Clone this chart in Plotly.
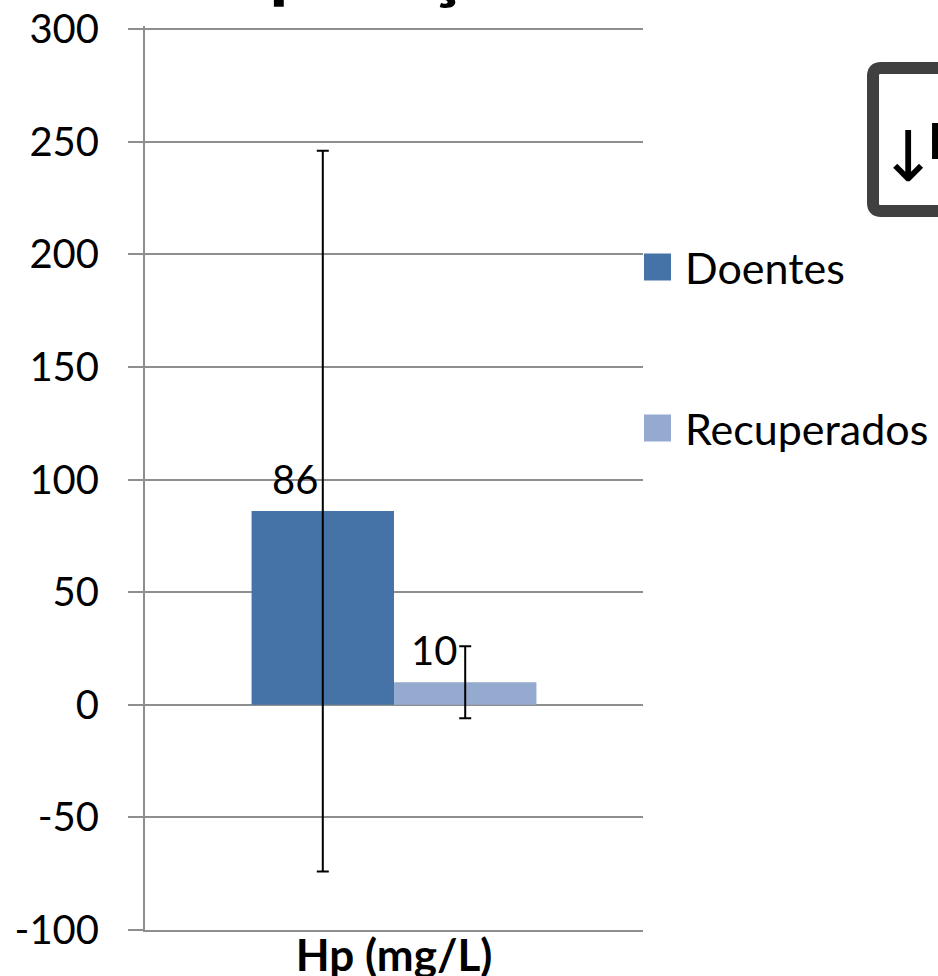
import plotly.graph_objects as go

categories = ["Hp (mg/L)"]
series_names = ["Doentes", "Recuperados"]
doentes = [86]
recuperados = [10]
doentes_err = [160]
recuperados_err = [16]
colors = ["#4673A7", "#95AACF"]
y_ticks = [-100, -50, 0, 50, 100, 150, 200, 250, 300]

FONT = "Lato"
GRID = "#8E8E8E"
fig = go.Figure()
for name, vals, err, col in zip(series_names, [doentes, recuperados], [doentes_err, recuperados_err], colors):
    fig.add_trace(go.Bar(
        x=categories, y=vals, name=name, marker=dict(color=col, line=dict(width=0)),
        error_y=dict(type="data", array=err, visible=True, color="black", thickness=2, width=6),
        showlegend=False,
    ))

# data labels
bw = (1 - 0.428) / 2
for i, (vals, xs) in enumerate(zip([doentes, recuperados], [-28, -31])):
    fig.add_annotation(x=-bw / 2 + i * bw, y=vals[0], xref="x", yref="y", text=str(vals[0]),
                       showarrow=False, yanchor="bottom", xanchor="center", xshift=xs, yshift=6,
                       font=dict(family=FONT, size=40, color="black"))

PT, PB, PL, PR = 26, 930, 145, 643

def px(x):
    return (x - PL) / (PR - PL)

def py(y):
    return (PB - y) / (PB - PT)

# top gridline (plotly omits the one at the range edge)
fig.add_shape(type="line", xref="paper", yref="y", x0=0, x1=1, y0=y_ticks[-1], y1=y_ticks[-1],
              line=dict(color=GRID, width=2), layer="below")

# custom legend
for name, col, ypix in zip(series_names, colors, [267, 428]):
    fig.add_shape(type="rect", xref="paper", yref="paper",
                  x0=px(644), x1=px(671), y0=py(ypix + 13.5), y1=py(ypix - 13.5),
                  fillcolor=col, line=dict(width=0))
    fig.add_annotation(xref="paper", yref="paper", x=px(683), y=py(ypix), text=name,
                       showarrow=False, xanchor="left", yanchor="middle",
                       font=dict(family=FONT, size=43, color="black"))

# cut-off title
fig.add_annotation(xref="paper", yref="paper", x=px(102), y=1, text="<b>Comparação</b>",
                   showarrow=False, xanchor="left", yanchor="bottom", yshift=14,
                   font=dict(family=FONT, size=80, color="black"))

# rounded box at right
x0, x1, y0, y1, r = 873, 990, 68, 211, 8
path = (f"M {px(x0 + r)},{py(y0)} L {px(x1)},{py(y0)} L {px(x1)},{py(y1)} L {px(x0 + r)},{py(y1)} "
        f"Q {px(x0)},{py(y1)} {px(x0)},{py(y1 - r)} L {px(x0)},{py(y0 + r)} "
        f"Q {px(x0)},{py(y0)} {px(x0 + r)},{py(y0)} Z")
fig.add_shape(type="path", xref="paper", yref="paper", path=path,
              line=dict(color="#404040", width=12), fillcolor="white")
fig.add_annotation(xref="paper", yref="paper", x=px(877), y=py(157),
                   text="↓", showarrow=False, xanchor="left", yanchor="middle",
                   font=dict(family="DejaVu Sans", size=70, color="black"))
fig.add_annotation(xref="paper", yref="paper", x=px(926), y=py(140),
                   text="<b>Hp</b>", showarrow=False, xanchor="left", yanchor="middle",
                   font=dict(family=FONT, size=50, color="black"))

fig.update_layout(
    width=938, height=976,
    margin=dict(l=PL, r=938 - PR, t=PT, b=976 - PB, autoexpand=False),
    paper_bgcolor="white", plot_bgcolor="white",
    barmode="group", bargap=0.428, bargroupgap=0,
    font=dict(family=FONT, size=40, color="black"),
)
fig.update_yaxes(range=[-100, 300 + 3 / 2.2525], tickvals=y_ticks, ticktext=[str(v) for v in y_ticks],
                 showgrid=True, gridcolor=GRID, gridwidth=2,
                 zeroline=False, showline=True, linecolor=GRID, linewidth=2,
                 ticks="outside", ticklen=15, tickcolor=GRID, tickwidth=2,
                 ticklabelstandoff=21, ticklabeloverflow="allow",
                 tickfont=dict(family=FONT, size=40, color="black"))
fig.update_xaxes(showline=True, linecolor=GRID, linewidth=2, ticks="", showgrid=False,
                 ticklabeloverflow="allow",
                 tickfont=dict(family=FONT, size=44, color="black", weight="bold"), ticklabelstandoff=-14)

fig.write_html("out.html", config={"displayModeBar": False},
               post_script="document.body.style.margin='0';document.body.style.overflow='hidden';")
